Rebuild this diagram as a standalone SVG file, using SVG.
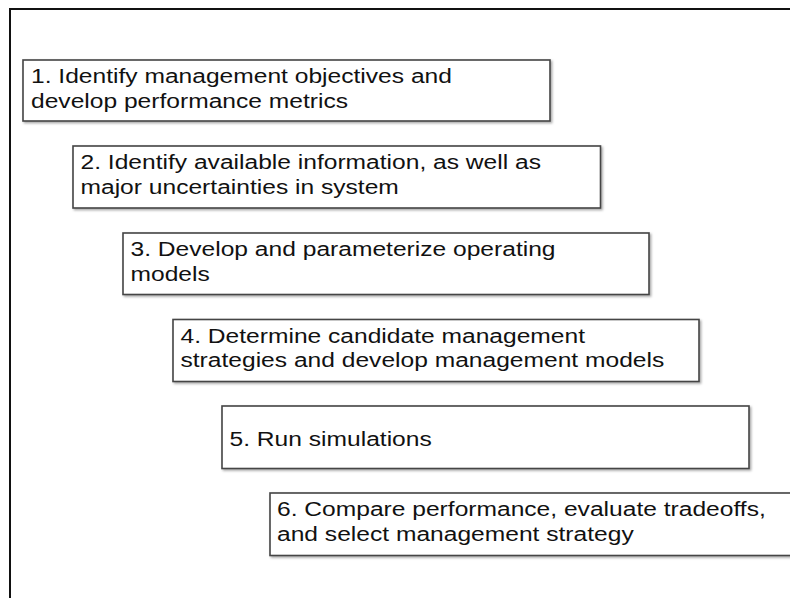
<svg xmlns="http://www.w3.org/2000/svg" width="790" height="598" viewBox="0 0 790 598">
  <style>
    .frame { fill: none; stroke: #111; stroke-width: 2; }
    .box { fill: #fff; stroke: #444; stroke-width: 1.6; filter: url(#shadow); }
    .label { font-family: "Liberation Sans", Arial, Helvetica, sans-serif; font-size: 21px; fill: #111; }
  </style>
  <defs>
    <filter id="shadow" x="-5%" y="-10%" width="110%" height="130%">
      <feDropShadow dx="1.5" dy="1.5" stdDeviation="1" flood-color="#000" flood-opacity="0.35"/>
    </filter>
  </defs>

  <rect width="790" height="598" fill="#fff"/>
  <!-- outer frame, open to the right and bottom -->
  <rect class="frame" x="10" y="9" width="800" height="610"/>

  <g id="step1">
    <rect class="box" x="23" y="60" width="527" height="61"/>
    <text class="label" transform="translate(31,83.3) scale(1.171,1)">1. Identify management objectives and</text>
    <text class="label" transform="translate(31,107.7) scale(1.171,1)">develop performance metrics</text>
  </g>

  <g id="step2">
    <rect class="box" x="73" y="146" width="527.5" height="62"/>
    <text class="label" transform="translate(80.5,169.3) scale(1.171,1)">2. Identify available information, as well as</text>
    <text class="label" transform="translate(80.5,193.5) scale(1.171,1)">major uncertainties in system</text>
  </g>

  <g id="step3">
    <rect class="box" x="123" y="233" width="526" height="61.5"/>
    <text class="label" transform="translate(130.5,256.3) scale(1.171,1)">3. Develop and parameterize operating</text>
    <text class="label" transform="translate(130.5,280.5) scale(1.171,1)">models</text>
  </g>

  <g id="step4">
    <rect class="box" x="173" y="319.5" width="526" height="62"/>
    <text class="label" transform="translate(180.5,342.8) scale(1.171,1)">4. Determine candidate management</text>
    <text class="label" transform="translate(180.5,367) scale(1.171,1)">strategies and develop management models</text>
  </g>

  <g id="step5">
    <rect class="box" x="222" y="406" width="527" height="62.5"/>
    <text class="label" transform="translate(229.5,445.7) scale(1.171,1)">5. Run simulations</text>
  </g>

  <g id="step6">
    <rect class="box" x="270" y="493" width="530" height="62.5"/>
    <text class="label" transform="translate(277,516.3) scale(1.171,1)">6. Compare performance, evaluate tradeoffs,</text>
    <text class="label" transform="translate(277,540.5) scale(1.171,1)">and select management strategy</text>
  </g>

  <g id="connectors"/>
</svg>
